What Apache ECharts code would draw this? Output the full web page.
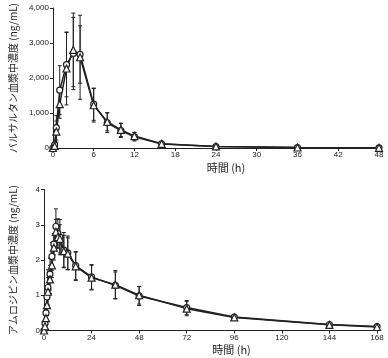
<!DOCTYPE html>
<html><head><meta charset="utf-8">
<script src="https://cdn.jsdelivr.net/npm/echarts@6/dist/echarts.min.js"></script>
<style>html,body{margin:0;padding:0;background:#fff}#c{width:388px;height:358px}</style>
</head><body><div id="c"></div>
<script>
// Valsartan (top panel)
var valTimes = [0, 0.25, 0.5, 1, 2, 3, 4, 6, 8, 10, 12, 16, 24, 36, 48];
var valCircle = [0, 90, 580, 1650, 2380, 2700, 2670, 1250, 720, 500, 320, 115, 40, 12, 4];
var valCircleSD = [0, 70, 350, 700, 920, 1030, 820, 460, 280, 200, 120, 35, 15, 6, 3];
var valTriangle = [0, 60, 470, 1250, 2270, 2800, 2590, 1220, 750, 520, 340, 120, 45, 14, 6];
var valTriangleSD = [0, 50, 300, 400, 1040, 1050, 1200, 480, 260, 190, 110, 35, 15, 6, 3];
var valXTicks = [0, 6, 12, 18, 24, 30, 36, 42, 48];
var valYTicks = [0, 1000, 2000, 3000, 4000];

// Amlodipine (bottom panel)
var amlTimes = [0, 0.5, 1, 1.5, 2, 3, 4, 5, 6, 7, 8, 10, 12, 16, 24, 36, 48, 72, 96, 144, 168];
var amlCircle = [0, 0.2, 0.5, 0.95, 1.22, 1.6, 2.1, 2.45, 2.95, 2.75, 2.65, 2.28, 2.2, 1.84, 1.52, 1.28, 0.98, 0.65, 0.38, 0.17, 0.11];
var amlCircleSD = [0, 0.08, 0.2, 0.3, 0.5, 0.45, 0.4, 0.3, 0.5, 0.42, 0.5, 0.5, 0.48, 0.4, 0.35, 0.38, 0.27, 0.2, 0.05, 0.03, 0.02];
var amlTriangle = [0, 0.12, 0.35, 0.72, 1.1, 1.45, 1.85, 2.35, 2.8, 2.65, 2.6, 2.25, 2.18, 1.82, 1.5, 1.3, 1.0, 0.62, 0.37, 0.16, 0.1];
var amlTriangleSD = [0, 0.06, 0.15, 0.3, 0.4, 0.4, 0.35, 0.35, 0.35, 0.3, 0.4, 0.45, 0.45, 0.4, 0.35, 0.4, 0.25, 0.2, 0.05, 0.03, 0.02];
var amlXTicks = [0, 24, 48, 72, 96, 120, 144, 168];
var amlYTicks = [0, 1, 2, 3, 4];

var FONT = 'Liberation Sans, "Noto Sans CJK JP", sans-serif';
var JFONT = '"Noto Sans CJK JP", sans-serif';

function pairs(t, v) { return t.map(function (x, i) { return [x, v[i]]; }); }
function errData(t, v, sd) { return t.map(function (x, i) { return [x, v[i] - sd[i], v[i] + sd[i]]; }); }
function errRender(params, api) {
  var lo = api.coord([api.value(0), api.value(1)]);
  var hi = api.coord([api.value(0), api.value(2)]);
  var w = 2;
  var s = { stroke: '#222', lineWidth: 1 };
  return { type: 'group', children: [
    { type: 'line', shape: { x1: lo[0], y1: lo[1], x2: hi[0], y2: hi[1] }, style: s },
    { type: 'line', shape: { x1: lo[0] - w, y1: lo[1], x2: lo[0] + w, y2: lo[1] }, style: s },
    { type: 'line', shape: { x1: hi[0] - w, y1: hi[1], x2: hi[0] + w, y2: hi[1] }, style: s }
  ]};
}
function lineSeries(idx, t, v, sym) {
  return { type: 'line', xAxisIndex: idx, yAxisIndex: idx, data: pairs(t, v), symbol: sym, symbolSize: sym === 'triangle' ? 7 : 6,
    lineStyle: { color: '#222', width: 1.5 }, itemStyle: { color: '#fff', borderColor: '#222', borderWidth: 1.2 }, z: 3, animation: false };
}
function errSeries(idx, t, v, sd) {
  return { type: 'custom', xAxisIndex: idx, yAxisIndex: idx, data: errData(t, v, sd), renderItem: errRender, z: 2, animation: false, silent: true };
}
function xAxis(idx, ticks, padLeft) {
  return { type: 'value', gridIndex: idx, min: ticks[0], max: ticks[ticks.length - 1], interval: ticks[1] - ticks[0],
    name: '時間 (h)', nameLocation: 'middle', nameGap: 14,
    nameTextStyle: { fontFamily: JFONT, fontSize: 11, color: '#222', padding: [0, 0, 0, padLeft] },
    axisLine: { lineStyle: { color: '#222', width: 1 } }, axisTick: { show: true, length: 3, lineStyle: { color: '#222' } },
    axisLabel: { fontFamily: FONT, fontSize: 8, color: '#222', margin: 3 }, splitLine: { show: false } };
}
function yAxis(idx, ticks, name, fmt) {
  return { type: 'value', gridIndex: idx, min: ticks[0], max: ticks[ticks.length - 1], interval: ticks[1] - ticks[0],
    name: name, nameLocation: 'middle', nameGap: 26, nameRotate: 90,
    nameTextStyle: { fontFamily: JFONT, fontSize: 10, color: '#222' },
    axisLine: { show: true, lineStyle: { color: '#222', width: 1 } }, axisTick: { show: true, length: 3, lineStyle: { color: '#222' } },
    axisLabel: { fontFamily: FONT, fontSize: 8, color: '#222', margin: 4, formatter: fmt }, splitLine: { show: false } };
}

var chart = echarts.init(document.getElementById('c'), null, { renderer: 'canvas' });
chart.setOption({
  animation: false,
  backgroundColor: '#fff',
  grid: [
    { left: 41, right: 9, top: 7.5, height: 140.5 },
    { left: 41, right: 11, top: 189.5, height: 141 }
  ],
  xAxis: [xAxis(0, valXTicks, 20), xAxis(1, amlXTicks, 42)],
  yAxis: [
    yAxis(0, valYTicks, 'バルサルタン血漿中濃度 (ng/mL)', function (v) { return v.toLocaleString('en-US'); }),
    yAxis(1, amlYTicks, 'アムロジピン血漿中濃度 (ng/mL)', function (v) { return String(v); })
  ],
  series: [
    errSeries(0, valTimes, valCircle, valCircleSD),
    errSeries(0, valTimes, valTriangle, valTriangleSD),
    lineSeries(0, valTimes, valCircle, 'circle'),
    lineSeries(0, valTimes, valTriangle, 'triangle'),
    errSeries(1, amlTimes, amlCircle, amlCircleSD),
    errSeries(1, amlTimes, amlTriangle, amlTriangleSD),
    lineSeries(1, amlTimes, amlCircle, 'circle'),
    lineSeries(1, amlTimes, amlTriangle, 'triangle')
  ]
});
</script></body></html>
